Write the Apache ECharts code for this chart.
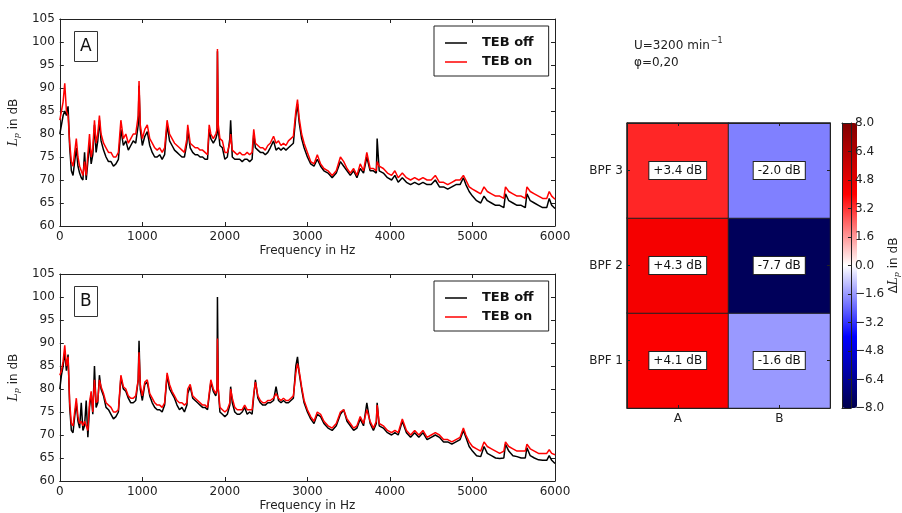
<!DOCTYPE html>
<html><head><meta charset="utf-8">
<script src="https://cdn.jsdelivr.net/npm/echarts@6/dist/echarts.min.js"></script>
<style>html,body{margin:0;padding:0;background:#fff}#c{width:902px;height:513px}</style>
</head><body><div id="c"></div>
<script>
// ---------------- data ----------------
const freq = [
0,20,40,60,80,100,120,140,160,180,
200,220,240,260,280,300,320,340,360,380,
400,420,440,460,480,500,530,560,590,620,
650,680,710,740,770,800,830,860,890,920,
950,960,975,1000,1030,1060,1090,1120,1150,1180,
1210,1240,1270,1300,1330,1360,1390,1420,1450,1480,
1510,1540,1550,1580,1610,1640,1670,1700,1730,1760,
1790,1810,1830,1860,1890,1905,1910,1920,1940,1970,
2000,2030,2060,2070,2090,2120,2150,2180,2210,2240,
2270,2300,2330,2350,2370,2400,2430,2460,2490,2520,
2550,2590,2620,2650,2680,2710,2740,2770,2800,2830,
2860,2880,2900,2930,2960,3000,3040,3080,3120,3160,
3200,3250,3300,3350,3400,3440,3480,3520,3560,3600,
3640,3680,3720,3760,3800,3835,3845,3870,3920,3970,
4020,4060,4100,4150,4200,4250,4300,4350,4400,4450,
4500,4550,4600,4650,4700,4750,4800,4850,4890,4920,
4960,5000,5050,5100,5140,5180,5230,5280,5330,5380,
5400,5440,5490,5540,5590,5640,5660,5700,5750,5800,
5850,5900,5930,5960,6000];

const aOn = [
83,85,87,91,85,84,78,74,73,76,
79,75,73,72,71,74,71,71,80,75,
77,83,78,80,84,80,78,77,76,76,
75,75,76,83,79,80,78,79,80,80,
84,91.5,82,79,81,82,79,78,77,76.5,
77,76,77,83,80,79,78,77.5,77,76.5,
76,79,82,78,77.5,77,77,76.5,76.5,76,
75.5,82,80,79,80,81,98.5,82,79,78.5,
76,76,78,80,76.5,76,75.5,76,75.5,75.5,
76,75.5,76,81,78,77.5,77,77,76.5,77.5,
78,79.5,78,78.5,77.5,78,77.5,78.5,79,79.5,
85,87.5,83.5,80,78,76,74,73.5,75.5,73.5,
72.5,72,71,72,75,74,72.5,71.5,72.5,71,
73.5,72,76,72.5,72.5,72,74,73,72.5,71.5,
71,72,70.5,71.5,70.5,70,70.5,70,70.5,70,
70,71,69.5,69.5,69,69.5,70,70,71,70,
68.5,68,67.5,67,68.5,67.5,67,66.5,66.5,66,
68.5,67.5,67,66.5,66.5,66,68.5,67.5,67,66.5,
66,66,67.5,66.5,65.8];

const aOff = [
80,82,84,85,84,86,77,72,71,74,
77,73,71.5,70.5,70,76,70,70,78,73.5,
75.5,82,76,78.5,83,78.5,76.5,75,74,74,
73,73.5,74.5,81,77.5,78.5,76.5,77.5,78.5,78,
82,90.5,81,77.5,79.5,80.5,77.5,76,75,75,
75.5,74.5,75.5,82,78.5,77.5,76.5,76,75.5,75,
75,78,81,77,76,75.5,75.5,75,75,74.5,
74.5,81,79,78,79,80,98,81,77.5,77,
74.5,75,79,83,75,74.5,74.5,74.5,74,74.5,
74.5,74,74.5,80,77,76.5,76,76,75.5,76,
77,78.5,76.5,77,76.5,77,76.5,77,77.5,78,
84,86.5,82.5,79,77,75,73.5,73,74.5,73,
72,71.5,70.5,71.5,74,73,72,71,72,70.5,
72.5,71.5,75,72,72,71.5,79,72,71.5,70.5,
70,71,69.5,70.5,69.5,69,69.5,69,69.5,69,
69,70,68.5,68.5,68,68.5,69,69,70.5,69,
67.5,66.5,65.5,65,66.5,65.5,65,64.5,64.5,64,
67,65.5,65,64.5,64.5,64,67,65.5,65,64.5,
64,64,66,64.5,63.8];

const bOn = [
83,84,86,89.5,85,87,77,72.5,72,75,
78,74,72.5,73,72,73,72,71,77,79.5,
75,82,77,77.5,82,80.5,79,77,76.5,76,
75,75,75.5,83,80.5,80,78.5,78,78,78.5,
82,88,81,78.5,81.5,82,79,78,77,76.5,
76.5,76,77,83.5,81,79.5,78.5,77.5,77,77,
76.5,77,80,81,78.5,78,77.5,77,76.5,76.5,
76,79,82,80,79,80,91,80,76,75.5,
75,75.5,77,80,78,76,75.5,75.5,75.5,76.5,
75.5,75.5,75.5,79,81.5,78.5,77.5,77,77,77.5,
77.5,78,79,78,77.5,78,77.5,77.5,78,78.5,
83.5,85.5,84,80.5,77.5,75.5,74,73,75,74.5,
73,72,71.5,72.5,75,75.5,73.5,72.5,71.5,72,
74,72.5,75.5,73,71.5,73,76.5,72.5,72,71,
70.5,71,70.5,73.5,71,70,71,70,71,69.5,
70,70.5,70,69,69,68.5,69,69.5,71.5,70,
68.5,67.5,67,66.5,68.5,67.5,67,66.5,66,66.5,
68.5,67.5,67,66.5,66.5,66.5,68,67,66.5,66,
66,66,66.8,66,65.7];

const bOff = [
80,83,85,88,84,87.5,76,71,70.5,74,
77,73,71.5,77,71,72,77.5,69.5,76,79,
74.5,85,76,77,83,80,78.5,76,75.5,74.5,
73.5,74,75,82.5,80,79.5,78,77,77,77.5,
82,90.5,80,77.5,81,81.5,78.5,77,76,75.5,
75.5,75,76.5,83,80,79,78,76.5,75.5,76,
75,76.5,79,80.5,78,77.5,77,76.5,76,76,
75.5,78.5,81.5,79.5,78.5,80,100,80,75,74.5,
74,74.5,76.5,80.5,77,75,74.5,74.5,75,76,
74.5,75,74.5,78.5,82,78,77,76.5,76.5,77,
77,77.5,80.5,77.5,77,77.5,77,77,77.5,78,
85,87,83.5,80,77,75,73.5,72.5,74.5,74,
72.5,71.5,71,72,74.5,75.5,73,72,71,71.5,
73.5,72,77,72.5,71,72.5,77,72,71.5,70.5,
70,70.5,70,73,70.5,69.5,70.5,69.5,70.5,69,
69.5,70,69.5,68.5,68.5,68,68.5,69,71,69.5,
67.5,66.5,65.5,65.3,67.5,66,65.5,65,64.9,65,
68,66.5,65.5,65.3,65,65,67.2,65.5,65,64.6,
64.5,64.5,65.5,64.5,63.8];

const seriesNames = ['TEB off', 'TEB on'];
const heatCols = ['A', 'B'];
const heatRows = ['BPF 1', 'BPF 2', 'BPF 3'];
const heatA = [4.1, 4.3, 3.4];
const heatB = [-1.6, -7.7, -2.0];
const freqRange = [0, 6000, 1000];
const levelRange = [60, 105, 5];
const deltaRange = [-8, 8, 1.6];

// ---------------- chart ----------------
const FONT = 'DejaVu Sans';
const INK = '#222';
const pairs = (f, v) => f.map((x, i) => [x, v[i]]);
const heatData = [];
heatCols.forEach((c, i) => heatRows.forEach((r, j) => {
  heatData.push([i, j, (i === 0 ? heatA : heatB)[j]]);
}));

const grids = [
  {left: 59, top: 19, width: 496, height: 207},
  {left: 59, top: 274, width: 496, height: 207},
  {left: 627, top: 123, width: 203, height: 285},
  {left: 842, top: 123, width: 15, height: 285}
];

const lineAx = {color: INK, width: 1};
const axLine = {show: true, onZero: false, lineStyle: lineAx};
function freqAxis(g, pos) {
  return {
    type: 'value', gridIndex: g, position: pos,
    min: freqRange[0], max: freqRange[1], interval: freqRange[2],
    axisLine: axLine,
    axisTick: {show: true, inside: true, length: 4, lineStyle: lineAx},
    axisLabel: {show: pos === 'bottom', margin: 5, fontSize: 12, color: INK, fontFamily: FONT,
                formatter: v => String(v)},
    splitLine: {show: false},
    name: pos === 'bottom' ? 'Frequency in Hz' : '',
    nameLocation: 'middle', nameGap: 19,
    nameTextStyle: {fontSize: 12, color: INK, fontFamily: FONT}
  };
}
function levelAxis(g, pos) {
  return {
    type: 'value', gridIndex: g, position: pos,
    min: levelRange[0], max: levelRange[1], interval: levelRange[2],
    axisLine: axLine,
    axisTick: {show: true, inside: true, length: 4, lineStyle: lineAx},
    axisLabel: {show: pos === 'left', margin: 5, fontSize: 12, color: INK, fontFamily: FONT},
    splitLine: {show: false},
    name: pos === 'left' ? '{i|L}{s|p}{n| in dB}' : '',
    nameLocation: 'middle', nameGap: 31, nameRotate: 90,
    nameTextStyle: {
      fontFamily: FONT, color: INK,
      rich: {
        i: {fontSize: 12, fontStyle: 'italic', fontFamily: 'DejaVu Serif', color: INK},
        s: {fontSize: 8, fontStyle: 'italic', fontFamily: 'DejaVu Serif', color: INK, padding: [6, 0, 0, 0]},
        n: {fontSize: 12, fontFamily: FONT, color: INK}
      }
    }
  };
}
const catTick = {show: true, inside: true, length: 3, alignWithLabel: true, lineStyle: lineAx};

const fmtDelta = v => (v > 0 ? '+' : '') + v.toFixed(1) + ' dB';
const fmtBar = v => Math.abs(v) < 1e-9 ? '0.0' : (v < 0 ? '\u2212' : '') + Math.abs(v).toFixed(1);

const legendBase = {
  left: 434, orient: 'vertical', data: seriesNames, icon: 'rect',
  itemWidth: 22, itemHeight: 1.5, itemGap: 5, selectedMode: false,
  borderColor: INK, borderWidth: 1, padding: [10, 15, 7, 11], backgroundColor: '#fff',
  textStyle: {fontSize: 13, fontWeight: 'bold', fontFamily: FONT, color: '#111', padding: [0, 0, 0, 10], lineHeight: 14}
};
const boxTitle = (t, top) => ({
  text: t, left: 74, top: top, padding: [6, 6, 6, 6], borderColor: '#333', borderWidth: 1,
  textStyle: {fontSize: 17, fontWeight: 'normal', lineHeight: 19, color: '#111', fontFamily: FONT}
});

const option = {
  animation: false,
  backgroundColor: '#fff',
  textStyle: {fontFamily: FONT},
  title: [
    boxTitle('A', 31),
    boxTitle('B', 286),
    {
      text: '{a|U=3200 min}{s|\u22121}\n{a|\u03c6=0,20}', left: 634, top: 37, padding: 0,
      textStyle: {
        fontWeight: 'normal',
        rich: {
          a: {fontSize: 12, lineHeight: 17, color: INK, fontFamily: FONT, fontWeight: 'normal'},
          s: {fontSize: 8, lineHeight: 17, color: INK, fontFamily: FONT, fontWeight: 'normal', verticalAlign: 'top', padding: [0, 0, 7, 1]}
        }
      }
    }
  ],
  legend: [Object.assign({top: 26}, legendBase), Object.assign({top: 281}, legendBase)],
  grid: grids,
  xAxis: [
    freqAxis(0, 'bottom'), freqAxis(0, 'top'),
    freqAxis(1, 'bottom'), freqAxis(1, 'top'),
    {type: 'category', gridIndex: 2, position: 'bottom', data: heatCols,
     axisLine: axLine, axisTick: catTick,
     axisLabel: {margin: 5, fontSize: 12, color: INK, fontFamily: FONT}, z: 5},
    {type: 'category', gridIndex: 2, position: 'top', data: heatCols,
     axisLine: axLine, axisTick: catTick, axisLabel: {show: false}, z: 5},
    {type: 'value', gridIndex: 3, position: 'bottom', min: 0, max: 1,
     axisLine: axLine, axisTick: {show: false}, axisLabel: {show: false}, splitLine: {show: false}, z: 10},
    {type: 'value', gridIndex: 3, position: 'top', min: 0, max: 1,
     axisLine: axLine, axisTick: {show: false}, axisLabel: {show: false}, splitLine: {show: false}, z: 10}
  ],
  yAxis: [
    levelAxis(0, 'left'), levelAxis(0, 'right'),
    levelAxis(1, 'left'), levelAxis(1, 'right'),
    {type: 'category', gridIndex: 2, position: 'left', data: heatRows,
     axisLine: axLine, axisTick: catTick,
     axisLabel: {margin: 4, fontSize: 12, color: INK, fontFamily: FONT}, z: 5},
    {type: 'category', gridIndex: 2, position: 'right', data: heatRows,
     axisLine: axLine, axisTick: catTick, axisLabel: {show: false}, z: 5},
    {type: 'value', gridIndex: 3, position: 'right',
     min: deltaRange[0], max: deltaRange[1], interval: deltaRange[2],
     axisLine: axLine,
     axisTick: {show: true, inside: true, length: 3, lineStyle: lineAx},
     axisLabel: {margin: 4, fontSize: 12, color: INK, fontFamily: FONT, formatter: fmtBar, align: 'left'},
     splitLine: {show: false}, z: 10,
     name: '{d|\u0394}{i|L}{s|p}{n| in dB}', nameLocation: 'middle', nameRotate: 90, nameGap: 34,
     nameTextStyle: {
       rich: {
         d: {fontSize: 12, fontFamily: FONT, color: INK},
         i: {fontSize: 12, fontStyle: 'italic', fontFamily: 'DejaVu Serif', color: INK},
         s: {fontSize: 8, fontStyle: 'italic', fontFamily: 'DejaVu Serif', color: INK, padding: [6, 0, 0, 0]},
         n: {fontSize: 12, fontFamily: FONT, color: INK}
       }
     }},
    {type: 'value', gridIndex: 3, position: 'left', min: deltaRange[0], max: deltaRange[1],
     axisLine: axLine, axisTick: {show: false}, axisLabel: {show: false}, splitLine: {show: false}, z: 10}
  ],
  visualMap: {
    type: 'continuous', min: deltaRange[0], max: deltaRange[1], seriesIndex: 4,
    calculable: false, orient: 'vertical', left: 842, top: 123, padding: 0,
    itemWidth: 15, itemHeight: 285, text: null, showLabel: false,
    inRange: {color: ['#00004d', '#0000ff', '#ffffff', '#ff0000', '#800000']}
  },
  series: [
    {type: 'line', name: seriesNames[0], xAxisIndex: 0, yAxisIndex: 0, data: pairs(freq, aOff),
     showSymbol: false, symbol: 'none', lineStyle: {color: '#000', width: 1.5}, itemStyle: {color: '#000'}, z: 2},
    {type: 'line', name: seriesNames[1], xAxisIndex: 0, yAxisIndex: 0, data: pairs(freq, aOn),
     showSymbol: false, symbol: 'none', lineStyle: {color: '#ff0000', width: 1.5}, itemStyle: {color: '#ff0000'}, z: 3},
    {type: 'line', name: seriesNames[0], xAxisIndex: 2, yAxisIndex: 2, data: pairs(freq, bOff),
     showSymbol: false, symbol: 'none', lineStyle: {color: '#000', width: 1.5}, itemStyle: {color: '#000'}, z: 2},
    {type: 'line', name: seriesNames[1], xAxisIndex: 2, yAxisIndex: 2, data: pairs(freq, bOn),
     showSymbol: false, symbol: 'none', lineStyle: {color: '#ff0000', width: 1.5}, itemStyle: {color: '#ff0000'}, z: 3},
    {type: 'heatmap', xAxisIndex: 4, yAxisIndex: 4, data: heatData,
     itemStyle: {borderColor: '#222', borderWidth: 1},
     label: {show: true, formatter: p => fmtDelta(p.value[2]), fontSize: 12, color: '#111', fontFamily: FONT,
             backgroundColor: '#fff', borderColor: '#222', borderWidth: 1, padding: [3, 4, 2, 4]}}
  ]
};
const chart = echarts.init(document.getElementById('c'), null, {renderer: 'canvas'});
chart.setOption(option);
</script></body></html>
